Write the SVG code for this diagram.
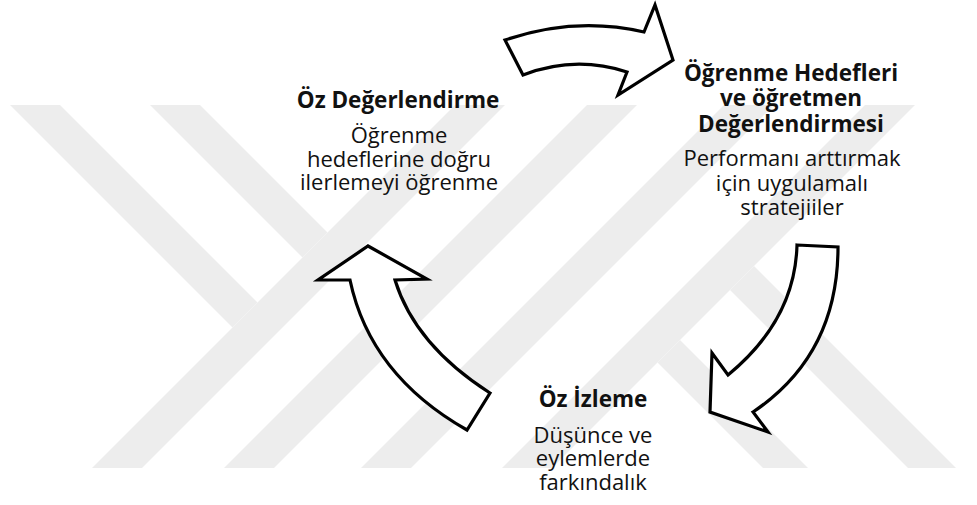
<svg xmlns="http://www.w3.org/2000/svg" width="977" height="505" viewBox="0 0 977 505">
<style>
.wm{fill:#ededed}
.arrow{fill:#ffffff;stroke:#000000;stroke-width:3.2;stroke-linejoin:miter}
text{font-family:"Open Sans","Noto Sans","DejaVu Sans",sans-serif;fill:#111111;text-anchor:middle}
.t{font-weight:bold;font-size:22.5px}
.b{font-size:22px}
</style>
<defs>
<clipPath id="wmclip"><rect x="0" y="105" width="977" height="363"/></clipPath>
</defs>
<rect width="977" height="505" fill="#ffffff"/>
<g id="watermark" clip-path="url(#wmclip)">
<polygon class="wm" points="10,105 60,105 257.5,302.5 232.5,327.5"/>
<polygon class="wm" points="150,105 200,105 327.5,232.5 302.5,257.5"/>
<polygon class="wm" points="455,105 505,105 142,468 92,468"/>
<polygon class="wm" points="587,105 637,105 274,468 224,468"/>
<polygon class="wm" points="724,105 774,105 411,468 361,468"/>
<polygon class="wm" points="865,105 915,105 552,468 502,468"/>
<polygon class="wm" points="657.5,362.5 680,340 808,468 763,468"/>
<polygon class="wm" points="730,290 754,266 956,468 908,468"/>
</g>
<g id="connectors">
<path id="arrow-top" class="arrow" d="M505,40 Q575,16 644,32 L655,5 L673,60 L618,95 L627,72 Q575,55 523,75 Z"/>
<path id="arrow-right" class="arrow" d="M797,245 L838,247 Q838,355 753,412 L768,432 L710,412 L712,353 L728,375 Q795,320 797,245 Z"/>
<path id="arrow-left" class="arrow" d="M490,393 Q415,345 395,280 L427,279 L368,246 L318,280 L350,280 Q370,375 467,430 Z"/>
</g>
<g id="node-oz-degerlendirme">
<text class="t" x="398" y="108">Öz Değerlendirme</text>
<text class="b" x="399" y="143">Öğrenme</text>
<text class="b" x="399" y="167">hedeflerine doğru</text>
<text class="b" x="399" y="190">ilerlemeyi öğrenme</text>
</g>
<g id="node-ogrenme-hedefleri">
<text class="t" x="791" y="81">Öğrenme Hedefleri</text>
<text class="t" x="791" y="106">ve öğretmen</text>
<text class="t" x="791" y="132">Değerlendirmesi</text>
<text class="b" x="792" y="166">Performanı arttırmak</text>
<text class="b" x="792" y="191">için uygulamalı</text>
<text class="b" x="792" y="215">stratejiiler</text>
</g>
<g id="node-oz-izleme">
<text class="t" x="593" y="407">Öz İzleme</text>
<text class="b" x="593" y="443">Düşünce ve</text>
<text class="b" x="593" y="466">eylemlerde</text>
<text class="b" x="593" y="490">farkındalık</text>
</g>
</svg>
